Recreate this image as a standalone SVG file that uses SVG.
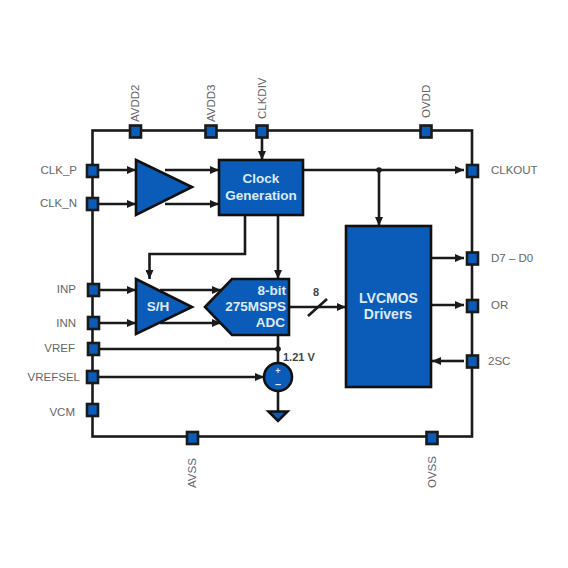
<svg xmlns="http://www.w3.org/2000/svg" width="568" height="568" viewBox="0 0 568 568">
<style>
.w{fill:none;stroke:#1a1a1a;stroke-width:2.6}
.a{fill:none;stroke:#1a1a1a;stroke-width:2.6;marker-end:url(#arr)}
.b{fill:#0a5cb8;stroke:#111;stroke-width:2.6}
.p{fill:#0a5cb8;stroke:#1a1a1a;stroke-width:2.6}
.l{font-family:"Liberation Sans",Arial,sans-serif;font-size:11.5px;fill:#666}
.t{font-family:"Liberation Sans",Arial,sans-serif;font-size:13.500px;font-weight:bold;fill:#dfeafa;text-anchor:middle}
.k{font-family:"Liberation Sans",Arial,sans-serif;font-size:11px;font-weight:bold;fill:#444}
.e{text-anchor:end}
</style>
<defs>
<marker id="arr" markerUnits="userSpaceOnUse" markerWidth="10" markerHeight="8" refX="9" refY="4" orient="auto"><path d="M0 0L9 4L0 8Z" fill="#1a1a1a"/></marker>
</defs>
<rect width="568" height="568" fill="#fff"/>
<g id="connectors">
<rect class="w" x="92.500" y="130.500" width="379.500" height="306"/>
<path class="a" d="M98 170H136"/><path class="a" d="M98 204H136"/>
<path class="a" d="M165 170H219"/><path class="a" d="M165 204H219"/>
<path class="a" d="M262 137V160"/>
<path class="a" d="M303 170H464"/>
<path class="a" d="M379 170V226"/>
<circle cx="379" cy="170" r="2.800" fill="#1a1a1a"/>
<path class="a" d="M245 215V254H149.500V279"/>
<path class="a" d="M278 215V279"/>
<path class="a" d="M98 290H136"/><path class="a" d="M98 323H136"/>
<path class="a" d="M160 290H221"/><path class="a" d="M160 323H221"/>
<path class="a" d="M289 307H346"/>
<path class="w" d="M308 316L327 299"/>
<path class="w" d="M278 335V364"/>
<path class="w" d="M98 349H278"/>
<circle cx="278" cy="349" r="2.800" fill="#1a1a1a"/>
<path class="a" d="M98 377H264"/>
<path class="w" d="M278 391V411"/>
<path class="a" d="M431 258H464"/>
<path class="a" d="M431 305H464"/>
<path class="a" d="M464 361H432"/>
</g>
<g id="amp"><path class="b" d="M136 160L192 187L136 215Z"/></g>
<g id="clockgen"><rect class="b" x="219" y="160" width="84" height="55"/><text class="t" x="261" y="183">Clock</text><text class="t" x="261" y="200">Generation</text></g>
<g id="sh"><path class="b" d="M136 279L192 307L136 334Z"/><text class="t" x="158" y="311">S/H</text></g>
<g id="adc"><path class="b" d="M205 307L232 279H289V335H232Z"/><text class="t" x="286" y="295" style="text-anchor:end">8-bit</text><text class="t" x="286" y="311" style="text-anchor:end">275MSPS</text><text class="t" x="285" y="327" style="text-anchor:end">ADC</text></g>
<g id="drivers"><rect class="b" x="346" y="226" width="85" height="161"/><text class="t" x="388.500" y="303" style="font-size:14px">LVCMOS</text><text class="t" x="388" y="319" style="font-size:14px">Drivers</text></g>
<g id="vsource"><circle class="b" cx="278" cy="377" r="14"/><text class="t" x="278" y="374" style="font-size:9px">+</text><text class="t" x="278" y="388" style="font-size:11px">–</text><text class="k" x="283" y="361">1.21 V</text></g>
<g id="ground"><path class="b" d="M268.500 411.500H287.500L278 421Z"/></g>
<text class="k" x="316" y="296" text-anchor="middle">8</text>
<g id="pin-avdd2"><rect class="p" x="130" y="125.500" width="11" height="12"/><text class="l" transform="translate(139 122) rotate(-90)">AVDD2</text></g>
<g id="pin-avdd3"><rect class="p" x="205.500" y="125.500" width="11" height="12"/><text class="l" transform="translate(215 122) rotate(-90)">AVDD3</text></g>
<g id="pin-clkdiv"><rect class="p" x="256.500" y="125.500" width="11" height="12"/><text class="l" transform="translate(266 119) rotate(-90)">CLKDIV</text></g>
<g id="pin-ovdd"><rect class="p" x="420.500" y="125.500" width="11" height="12"/><text class="l" transform="translate(430 118) rotate(-90)">OVDD</text></g>
<g id="pin-clkp"><rect class="p" x="87" y="165" width="11" height="12"/><text class="l e" x="77" y="174">CLK_P</text></g>
<g id="pin-clkn"><rect class="p" x="87" y="198" width="11" height="12"/><text class="l e" x="77" y="207">CLK_N</text></g>
<g id="pin-inp"><rect class="p" x="88" y="284" width="11" height="12"/><text class="l e" x="76" y="293">INP</text></g>
<g id="pin-inn"><rect class="p" x="88" y="317" width="11" height="12"/><text class="l e" x="76" y="327">INN</text></g>
<g id="pin-vref"><rect class="p" x="88" y="343" width="11" height="12"/><text class="l e" x="75" y="352">VREF</text></g>
<g id="pin-vrefsel"><rect class="p" x="87" y="371" width="11" height="12"/><text class="l e" x="80" y="381">VREFSEL</text></g>
<g id="pin-vcm"><rect class="p" x="87" y="404" width="11" height="12"/><text class="l e" x="75" y="416">VCM</text></g>
<g id="pin-avss"><rect class="p" x="187" y="432" width="11" height="12"/><text class="l" transform="translate(196 488) rotate(-90)">AVSS</text></g>
<g id="pin-ovss"><rect class="p" x="426.500" y="432" width="11" height="12"/><text class="l" transform="translate(436 488) rotate(-90)">OVSS</text></g>
<g id="pin-clkout"><rect class="p" x="467" y="165" width="11" height="12"/><text class="l" x="491" y="174">CLKOUT</text></g>
<g id="pin-d"><rect class="p" x="467" y="252.500" width="11" height="12"/><text class="l" x="491" y="262">D7 – D0</text></g>
<g id="pin-or"><rect class="p" x="467" y="300" width="11" height="12"/><text class="l" x="491" y="309">OR</text></g>
<g id="pin-2sc"><rect class="p" x="467" y="355.500" width="11" height="12"/><text class="l" x="488" y="365">2SC</text></g>
</svg>
